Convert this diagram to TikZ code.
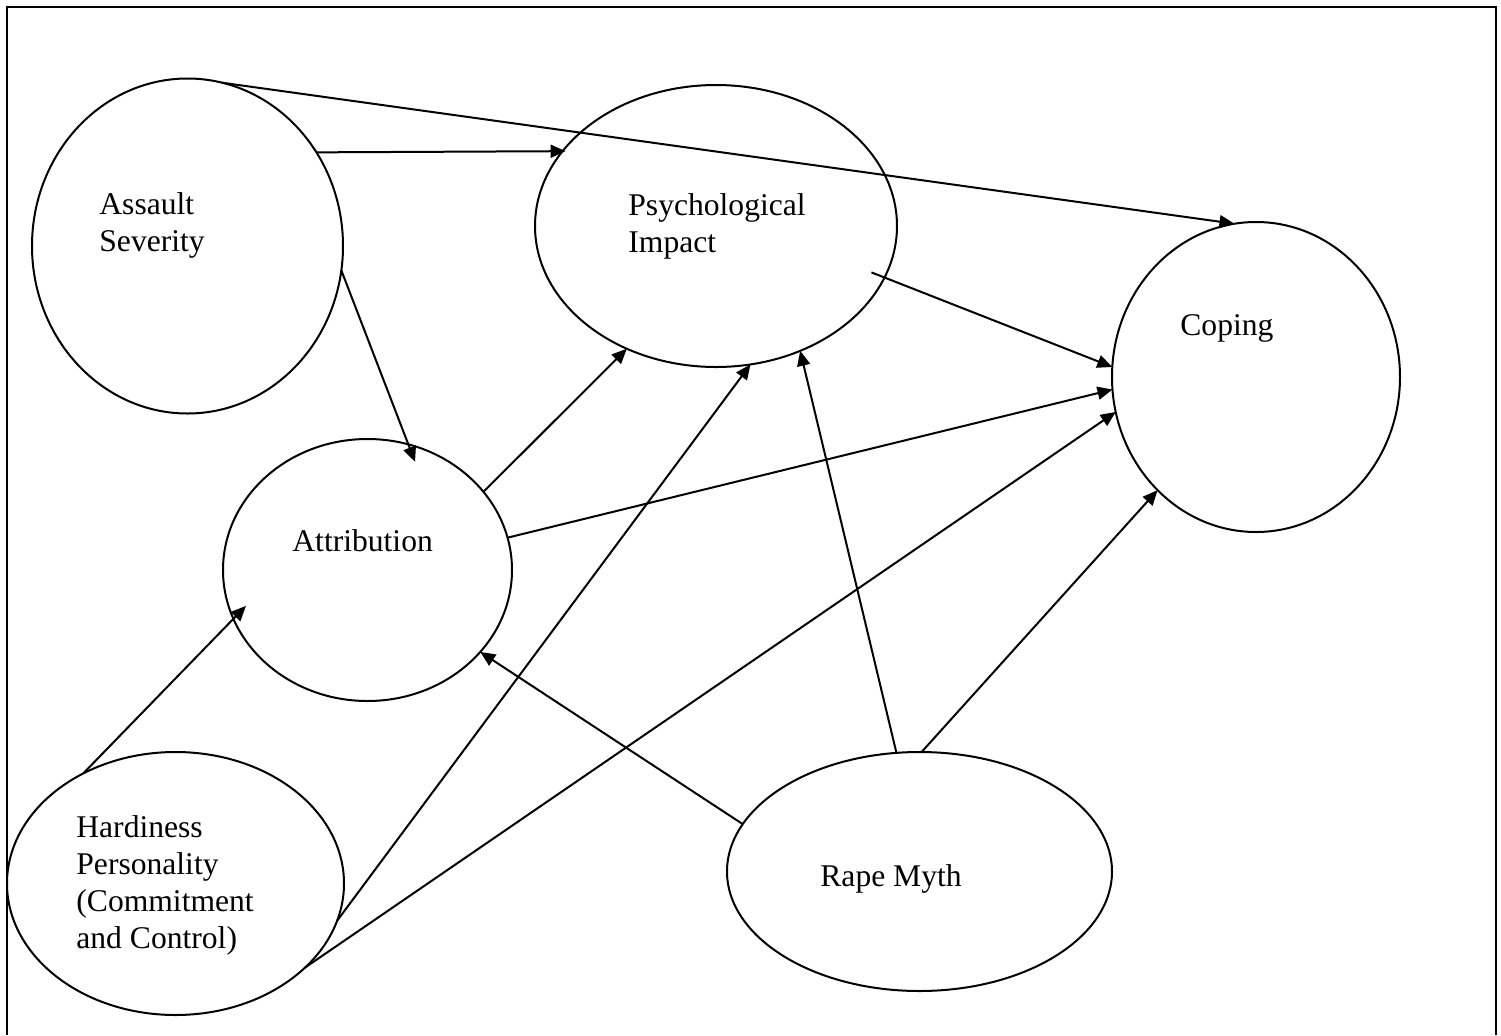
\documentclass[tikz,border=0pt]{standalone}
\usepackage{fontspec}
\setmainfont{Liberation Serif}
\usetikzlibrary{shapes.geometric,arrows.meta}
\begin{document}
\begin{tikzpicture}[x=0.5pt,y=-0.5pt,
  oval/.style={draw, ellipse, line width=1pt, inner sep=0pt, outer sep=0pt},
  lbl/.style={anchor=base west, inner sep=0pt, align=left, font=\fontsize{15.8pt}{18.35pt}\selectfont},
  arr/.style={line width=1pt, -{Triangle[length=7.5pt,width=6.5pt]}},
  frameline/.style={line width=1.1pt}]
\useasboundingbox (0,0) rectangle (1501,1035);
\draw[frameline] (7,1035) -- (7,7) -- (1496,7) -- (1496,1035);
% ellipses
\node[oval, minimum width=155.5pt, minimum height=167.5pt] (A) at (187.5,246) {};
\node[oval, minimum width=181pt, minimum height=141pt] (P) at (716,226) {};
\node[oval, minimum width=144pt, minimum height=155pt] (C) at (1256,377) {};
\node[oval, minimum width=144.5pt, minimum height=131pt] (T) at (367.5,570) {};
\node[oval, minimum width=168.5pt, minimum height=131.5pt] (H) at (175.5,883.5) {};
\node[oval, minimum width=192.5pt, minimum height=119.5pt] (R) at (919.5,871.5) {};
% labels
\node[lbl] (tA) at (99,251) {Assault\\Severity};
\node[lbl] (tP) at (628,252) {Psychological\\Impact};
\node[lbl] (tC) at (1180,335) {Coping};
\node[lbl] (tT) at (292,551) {Attribution};
\node[lbl] (tH) at (76,948) {Hardiness\\Personality\\(Commitment\\and Control)};
\node[lbl] (tR) at (820,886) {Rape Myth};
% arrows
\draw[arr] (A.78) -- (C.98.86);
\draw[arr, shorten >=-1.5pt] (A.36.14) -- (P.154.35);
\draw[arr, shorten >=-9.35pt] (A.351.23) -- (T.72);
\draw[arr, shorten <=-7pt] (P.343.46) -- (C.176);
\draw[arr] (T.34.78) -- (P.234.15);
\draw[arr] (T.13.6) -- (C.185.55);
\draw[arr, shorten >=-9pt] (H.130.23) -- (T.200.86);
\draw[arr] (H.347.7) -- (P.284.23);
\draw[arr] (H.327.5) -- (C.194.8);
\draw[arr] (R.165.8) -- (T.324.7);
\draw[arr] (R.101.1) -- (P.304.45);
\draw[arr] (R.89.8) -- (C.229.15);
\end{tikzpicture}
\end{document}
